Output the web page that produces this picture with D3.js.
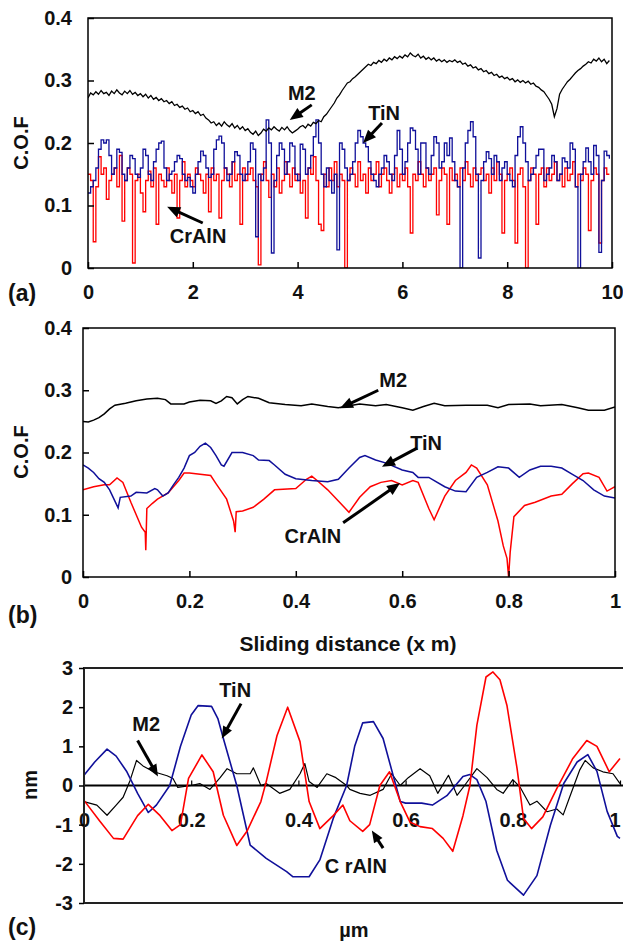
<!DOCTYPE html>
<html><head><meta charset="utf-8">
<script src="https://cdn.jsdelivr.net/npm/d3@7"></script>
<style>
body{margin:0;background:#fff}
svg{display:block}
text{font-family:"Liberation Sans",Arial,sans-serif;font-weight:bold;fill:#111}
</style>
</head><body>
<svg id="chart" width="623" height="943"></svg>
<script>
// ---------------- Panel (a): C.O.F vs sliding distance (0..10), sampled every 0.05 ----------------
const aStep = 0.05;
const aTicksX = [0, 2, 4, 6, 8, 10];
const cofTicks = [0, 0.1, 0.2, 0.3, 0.4];
const m2A = [
 .272,.28,.277,.282,.278,.284,.279,.281,.276,.283,
 .279,.285,.28,.277,.283,.279,.284,.278,.281,.276,
 .279,.274,.278,.272,.276,.27,.273,.268,.271,.266,
 .268,.263,.266,.26,.262,.257,.259,.254,.256,.25,
 .252,.247,.25,.244,.246,.24,.237,.232,.234,.228,
 .232,.227,.234,.229,.226,.231,.224,.228,.222,.226,
 .22,.223,.217,.214,.219,.212,.216,.222,.219,.224,
 .221,.226,.222,.219,.225,.221,.226,.22,.216,.219,
 .222,.226,.228,.224,.23,.227,.233,.231,.236,.234,
 .242,.246,.252,.258,.264,.272,.277,.284,.29,.296,
 .298,.303,.306,.31,.314,.318,.322,.326,.324,.329,
 .327,.332,.329,.334,.331,.336,.333,.338,.335,.339,
 .336,.341,.338,.344,.34,.338,.342,.336,.339,.334,
 .337,.333,.336,.331,.334,.33,.333,.329,.332,.33,
 .333,.329,.331,.326,.328,.323,.325,.32,.322,.317,
 .319,.314,.316,.311,.313,.308,.31,.305,.307,.303,
 .305,.301,.303,.298,.301,.297,.3,.296,.299,.294,
 .296,.291,.289,.285,.282,.276,.27,.262,.242,.255,
 .278,.286,.292,.298,.302,.307,.312,.316,.319,.323,
 .326,.33,.328,.334,.331,.336,.33,.334,.327,.332];
const tinA = [
 .12,.13,.14,.16,.19,.205,.2,.205,.18,.15,
 .16,.19,.185,.15,.14,.16,.18,.175,.15,.145,
 .16,.19,.18,.15,.14,.17,.19,.2,.203,.16,
 .14,.15,.155,.17,.18,.175,.15,.14,.145,.13,
 .12,.15,.17,.187,.18,.16,.145,.15,.19,.205,
 .211,.2,.16,.14,.15,.17,.186,.18,.15,.14,
 .15,.17,.2,.19,.05,.15,.14,.16,.237,.2,
 .024,.14,.18,.2,.19,.15,.17,.2,.195,.15,
 .14,.198,.19,.15,.16,.18,.21,.237,.2,.15,
 .13,.16,.14,.12,.15,.029,.2,.19,.16,.14,
 .15,.17,.2,.22,.21,.2,.194,.17,.15,.14,
 .13,.15,.16,.18,.17,.15,.14,.18,.22,.19,
 .15,.17,.2,.224,.22,.19,.15,.2,.2,.16,
 .15,.18,.21,.2,.16,.17,.2,.18,.208,.17,
 .14,.13,.0,.16,.2,.22,.234,.21,.15,.016,
 .14,.17,.186,.175,.15,.18,.17,.14,.16,.17,
 .15,.14,.13,.18,.21,.226,.2,.17,.14,.15,
 .16,.18,.19,.19,.14,.15,.16,.18,.17,.14,
 .15,.176,.17,.16,.2,.19,.13,.0,.15,.17,
 .192,.17,.15,.196,.18,.025,.14,.187,.18,.175];
const cralnA = [
 .15,.14,.042,.13,.178,.15,.16,.11,.14,.15,
 .16,.13,.18,.075,.14,.16,.15,.008,.14,.15,
 .12,.09,.14,.155,.13,.16,.07,.15,.14,.13,
 .16,.14,.12,.15,.08,.14,.17,.13,.15,.14,
 .13,.16,.15,.14,.12,.15,.09,.16,.14,.15,
 .08,.14,.16,.15,.13,.17,.14,.15,.07,.16,
 .14,.15,.16,.14,.13,.005,.15,.17,.14,.113,
 .15,.13,.16,.12,.14,.17,.15,.13,.16,.14,
 .15,.12,.14,.08,.16,.15,.178,.14,.07,.06,
 .15,.13,.16,.14,.17,.13,.15,.14,.0,.14,
 .16,.15,.13,.17,.14,.15,.12,.16,.14,.15,
 .17,.13,.15,.16,.14,.12,.15,.16,.13,.15,
 .14,.16,.13,.056,.15,.14,.17,.15,.13,.16,
 .14,.15,.16,.085,.14,.16,.15,.07,.16,.14,
 .15,.13,.16,.14,.17,.15,.13,.16,.14,.15,
 .16,.14,.15,.12,.16,.14,.17,.15,.056,.14,
 .15,.16,.14,.04,.15,.16,.13,.0,.14,.16,
 .15,.07,.15,.16,.13,.16,.14,.15,.17,.14,
 .15,.13,.16,.14,.15,.17,.13,.15,.14,.16,
 .15,.06,.14,.16,.15,.04,.14,.16,.15,.15];

// ---------------- Panel (b): C.O.F vs sliding distance (0..1) ----------------
const bTicksX = [0, 0.2, 0.4, 0.6, 0.8, 1];
const m2Bx = [0,.01,.02,.03,.04,.05,.06,.08,.1,.12,.14,.155,.165,.19,.2,.22,.24,.25,.26,.27,.28,.29,.3,.31,.33,.35,.38,.41,.43,.46,.48,.5,.52,.55,.57,.6,.62,.64,.66,.68,.72,.76,.78,.8,.84,.86,.9,.93,.95,.98,1];
const m2By = [.25,.249,.252,.256,.262,.27,.276,.279,.283,.286,.287,.285,.278,.278,.281,.284,.283,.279,.283,.29,.288,.278,.285,.29,.287,.28,.277,.275,.278,.274,.272,.275,.278,.275,.277,.272,.268,.274,.279,.275,.276,.276,.272,.277,.278,.275,.277,.272,.268,.268,.273];
const tinBx = [0,.01,.02,.03,.04,.05,.06,.066,.07,.09,.1,.12,.135,.14,.15,.16,.17,.18,.19,.2,.21,.22,.23,.24,.25,.26,.265,.28,.3,.32,.33,.35,.36,.38,.4,.43,.46,.48,.5,.52,.53,.55,.57,.6,.62,.63,.65,.68,.7,.72,.74,.76,.78,.8,.82,.84,.86,.88,.9,.92,.94,.96,.98,1];
const tinBy = [.18,.175,.168,.158,.152,.14,.122,.111,.128,.13,.136,.135,.142,.14,.13,.135,.148,.16,.175,.195,.2,.21,.215,.208,.195,.18,.178,.2,.2,.195,.188,.187,.18,.165,.158,.155,.153,.157,.175,.192,.195,.188,.183,.172,.168,.16,.16,.145,.138,.137,.16,.168,.177,.175,.16,.172,.178,.178,.175,.165,.155,.14,.13,.127];
const cralnBx = [0,.02,.04,.05,.064,.075,.09,.11,.117,.118,.12,.13,.14,.16,.18,.19,.2,.24,.25,.27,.283,.286,.288,.3,.32,.34,.36,.4,.42,.43,.44,.46,.48,.5,.52,.54,.56,.58,.6,.62,.63,.65,.66,.68,.7,.72,.73,.74,.76,.78,.79,.797,.8,.803,.81,.83,.85,.88,.9,.92,.94,.95,.97,.985,1];
const cralnBy = [.14,.145,.148,.148,.159,.152,.12,.08,.072,.043,.11,.118,.125,.135,.155,.167,.167,.163,.15,.125,.09,.072,.105,.106,.112,.125,.14,.142,.157,.162,.155,.14,.122,.104,.128,.145,.152,.155,.148,.155,.152,.11,.092,.13,.155,.168,.18,.175,.148,.09,.05,.03,0,.04,.097,.115,.12,.13,.133,.15,.166,.167,.16,.138,.145];

// ---------------- Panel (c): surface profile (nm) vs position (µm) ----------------
const cTicksX = [0, 0.2, 0.4, 0.6, 0.8, 1];
const cTicksY = [3, 2, 1, 0, -1, -2, -3];
const tinCx = [0,.02,.043,.06,.08,.1,.12,.135,.16,.18,.2,.213,.238,.25,.26,.285,.31,.34,.378,.39,.42,.44,.465,.49,.505,.52,.54,.558,.59,.6,.63,.65,.677,.707,.72,.733,.75,.77,.79,.82,.845,.87,.895,.92,.94,.957,.976,.995,1];
const tinCy = [.26,.6,.93,.75,.35,-.2,-.69,-.5,0,1.0,1.8,2.04,2.02,1.7,1.2,0,-1.52,-1.86,-2.2,-2.33,-2.33,-1.9,-.84,0,1.0,1.6,1.63,1.2,-.41,-.45,-.45,-.5,-.26,.23,.28,.15,-.41,-1.66,-2.42,-2.8,-2.3,-1.02,.05,.6,.79,.36,-.66,-1.3,-1.35];
const cralnCx = [0,.03,.055,.073,.1,.12,.142,.164,.18,.195,.22,.241,.26,.285,.304,.33,.34,.36,.38,.403,.42,.44,.465,.483,.496,.52,.533,.552,.57,.59,.608,.627,.65,.67,.688,.707,.72,.733,.75,.763,.776,.789,.808,.82,.835,.856,.882,.912,.938,.957,.98,1];
const cralnCy = [-.38,-.92,-1.35,-1.37,-.77,-.48,-.77,-1.15,-1.0,.18,.78,.35,-.76,-1.53,-1.17,-.41,.1,1.27,2.0,1.12,-.41,-1.1,-.77,-.5,-.9,-1.17,-1.0,0,.35,-.41,-.93,-1.05,-1.1,-1.35,-1.68,-.77,0,1.54,2.77,2.9,2.7,2.05,.43,-.84,-1.1,-.8,-.08,.69,1.15,1.0,.35,.69];
const m2Cx = [0,.024,.043,.06,.073,.086,.098,.11,.13,.155,.166,.175,.2,.216,.235,.254,.267,.285,.31,.316,.33,.34,.365,.384,.403,.412,.42,.435,.453,.47,.49,.496,.515,.534,.558,.574,.59,.605,.627,.645,.66,.68,.696,.71,.733,.752,.77,.782,.8,.814,.832,.845,.864,.882,.894,.906,.925,.935,.95,.968,.987,1];
const m2Cy = [-.41,-.5,-.76,-.5,-.3,.13,.64,.5,.35,.25,.18,-.05,0,.05,-.1,.2,.43,.3,.3,.45,0,.05,-.2,-.1,.3,.56,.1,-.05,.3,.2,0,-.1,-.2,-.25,-.1,.3,0,.2,.43,.25,-.2,.26,-.25,0,.43,.2,-.1,-.2,.15,-.05,-.5,-.4,-.67,-.6,-.75,-.3,.4,.64,.45,.35,.3,.05];

// annotations (data coordinates): label, text x, text y, arrow tail x,y, arrow tip x,y
const annA = [["M2",4.08,.269,4.27,.261,3.85,.237],["TiN",5.65,.237,5.61,.232,5.25,.2],["CrAlN",2.1,.04,2.19,.072,1.51,.098]];
const annB = [["M2",.583,.305,.555,.3,.483,.271],["TiN",.645,.204,.628,.207,.562,.177],["CrAlN",.432,.055,.489,.087,.596,.151]];
const annC = [["TiN",.282,2.27,.293,2.09,.257,1.2],["M2",.116,1.38,.1,1.15,.138,.23],["C rAlN",.507,-2.24,.558,-1.6,.537,-1.15]];

const COLORS = {M2:"#000000", TiN:"#10109a", CrAlN:"#ff0000"};

const svg = d3.select("#chart");

function arrow(g, x1, y1, x2, y2, hl, hw, lw) {
  const dx = x2 - x1, dy = y2 - y1, L = Math.hypot(dx, dy);
  const ux = dx / L, uy = dy / L;
  const bx = x2 - ux * hl, by = y2 - uy * hl;
  g.append("line").attr("x1", x1).attr("y1", y1).attr("x2", bx + ux * 2).attr("y2", by + uy * 2)
    .attr("stroke", "#000").attr("stroke-width", lw);
  g.append("path").attr("d", `M${x2},${y2}L${bx - uy * hw / 2},${by + ux * hw / 2}L${bx + uy * hw / 2},${by - ux * hw / 2}Z`)
    .attr("fill", "#000");
}

function drawAnn(g, ann, x, y, fs, hl, hw, lw) {
  ann.forEach(a => {
    g.append("text").attr("x", x(a[1])).attr("y", y(a[2])).attr("text-anchor", "middle")
      .attr("font-size", fs).text(a[0]);
    arrow(g, x(a[3]), y(a[4]), x(a[5]), y(a[6]), hl, hw, lw);
  });
}

const fmtTick = d => d === 0 ? "0" : (Number.isInteger(d) ? String(d) : d3.format(".1f")(d));

// ---------- Panel (a) ----------
{
  const x = d3.scaleLinear([0, 10], [88, 612]);
  const y = d3.scaleLinear([0, 0.4], [268, 18]);
  const g = svg.append("g");
  svg.append("clipPath").attr("id", "clipA").append("rect").attr("x", 88).attr("y", 18).attr("width", 524).attr("height", 250);
  const stepLine = d3.line().x((d, i) => x(i * aStep)).y(d => y(d)).curve(d3.curveStepAfter);
  const linLine = d3.line().x((d, i) => x(i * aStep)).y(d => y(d));
  const lg = g.append("g").attr("clip-path", "url(#clipA)");
  [[cralnA, COLORS.CrAlN, stepLine], [tinA, COLORS.TiN, stepLine], [m2A, COLORS.M2, linLine]].forEach(([s, c, ln]) => {
    lg.append("path").datum(s).attr("d", ln).attr("fill", "none").attr("stroke", c).attr("stroke-width", 1.3);
  });
  g.append("rect").attr("x", 88).attr("y", 18).attr("width", 524).attr("height", 250).attr("fill", "none").attr("stroke", "#000").attr("stroke-width", 1.5);
  const ya = g.append("g").attr("transform", "translate(88,0)")
    .call(d3.axisLeft(y).tickValues(cofTicks).tickSizeInner(-6).tickSizeOuter(0).tickPadding(16).tickFormat(fmtTick));
  const xa = g.append("g").attr("transform", "translate(0,268)")
    .call(d3.axisBottom(x).tickValues(aTicksX).tickSizeInner(-6).tickSizeOuter(0).tickPadding(17).tickFormat(fmtTick));
  [ya, xa].forEach(a => { a.select(".domain").remove(); a.selectAll("line").attr("stroke", "#000").attr("stroke-width", 1.5);
    a.selectAll("text").attr("font-size", 20).attr("font-family", null).attr("fill", "#111"); });
  g.append("text").attr("transform", "translate(28,143) rotate(-90)").attr("text-anchor", "middle").attr("font-size", 20).text("C.O.F");
  g.append("text").attr("x", 8).attr("y", 301).attr("font-size", 23).text("(a)");
  drawAnn(g, annA, x, y, 20, 13, 11, 3);
}

// ---------- Panel (b) ----------
{
  const x = d3.scaleLinear([0, 1], [83, 615]);
  const y = d3.scaleLinear([0, 0.4], [577, 328]);
  const g = svg.append("g");
  svg.append("clipPath").attr("id", "clipB").append("rect").attr("x", 83).attr("y", 328).attr("width", 532).attr("height", 249);
  const lg = g.append("g").attr("clip-path", "url(#clipB)");
  const mk = (xs, ys) => xs.map((v, i) => [v, ys[i]]);
  const line = d3.line().x(d => x(d[0])).y(d => y(d[1]));
  [[mk(cralnBx, cralnBy), COLORS.CrAlN], [mk(tinBx, tinBy), COLORS.TiN], [mk(m2Bx, m2By), COLORS.M2]].forEach(([s, c]) => {
    lg.append("path").datum(s).attr("d", line).attr("fill", "none").attr("stroke", c).attr("stroke-width", 1.5);
  });
  g.append("rect").attr("x", 83).attr("y", 328).attr("width", 532).attr("height", 249).attr("fill", "none").attr("stroke", "#000").attr("stroke-width", 1.5);
  const ya = g.append("g").attr("transform", "translate(83,0)")
    .call(d3.axisLeft(y).tickValues(cofTicks).tickSizeInner(-6).tickSizeOuter(0).tickPadding(11).tickFormat(fmtTick));
  const xa = g.append("g").attr("transform", "translate(0,577)")
    .call(d3.axisBottom(x).tickValues(bTicksX).tickSizeInner(-6).tickSizeOuter(0).tickPadding(17).tickFormat(fmtTick));
  [ya, xa].forEach(a => { a.select(".domain").remove(); a.selectAll("line").attr("stroke", "#000").attr("stroke-width", 1.5);
    a.selectAll("text").attr("font-size", 20).attr("font-family", null).attr("fill", "#111"); });
  g.append("text").attr("transform", "translate(28,452) rotate(-90)").attr("text-anchor", "middle").attr("font-size", 20).text("C.O.F");
  g.append("text").attr("x", 8).attr("y", 623).attr("font-size", 23).text("(b)");
  g.append("text").attr("x", 348).attr("y", 651).attr("text-anchor", "middle").attr("font-size", 21).text("Sliding distance (x m)");
  drawAnn(g, annB, x, y, 20, 13, 11, 3);
}

// ---------- Panel (c) ----------
{
  const x = d3.scaleLinear([0, 1], [84, 620]);
  const y = d3.scaleLinear([-3, 3], [903, 668]);
  const g = svg.append("g");
  const mk = (xs, ys) => xs.map((v, i) => [v, ys[i]]);
  const line = d3.line().x(d => x(d[0])).y(d => y(d[1]));
  const xa = g.append("g").attr("transform", `translate(0,${y(0)})`)
    .call(d3.axisBottom(x).tickValues(cTicksX).tickSizeInner(-5).tickSizeOuter(0).tickPadding(27).tickFormat(fmtTick));
  xa.select(".domain").attr("d", `M${x(0)},0H640`).attr("stroke", "#000").attr("stroke-width", 2);
  xa.selectAll("line").attr("stroke", "#000").attr("stroke-width", 1.2);
  xa.selectAll("text").attr("font-size", 20).attr("font-family", null).attr("fill", "#111");
  xa.selectAll(".tick").filter(d => d === 1).select("text").attr("text-anchor", "end").attr("dx", "0");
  [[mk(m2Cx, m2Cy), COLORS.M2, 1.2], [mk(tinCx, tinCy), COLORS.TiN, 1.6], [mk(cralnCx, cralnCy), COLORS.CrAlN, 1.6]].forEach(([s, c, w]) => {
    g.append("path").datum(s).attr("d", line).attr("fill", "none").attr("stroke", c).attr("stroke-width", w).attr("stroke-linejoin", "round");
  });
  g.append("rect").attr("x", 84).attr("y", 668).attr("width", 560).attr("height", 235).attr("fill", "none").attr("stroke", "#222").attr("stroke-width", 2);
  const ya = g.append("g").attr("transform", "translate(84,0)")
    .call(d3.axisLeft(y).tickValues(cTicksY).tickSizeInner(5).tickSizeOuter(0).tickPadding(6).tickFormat(d => String(d)));
  ya.select(".domain").remove();
  ya.selectAll("line").attr("stroke", "#000").attr("stroke-width", 1.5);
  ya.selectAll("text").attr("font-size", 20).attr("font-family", null).attr("fill", "#111");
  g.append("text").attr("transform", "translate(37,785) rotate(-90)").attr("text-anchor", "middle").attr("font-size", 20).text("nm");
  g.append("text").attr("x", 8).attr("y", 935).attr("font-size", 23).text("(c)");
  g.append("text").attr("x", 354).attr("y", 937).attr("text-anchor", "middle").attr("font-size", 20).text("µm");
  drawAnn(g, annC, x, y, 20, 12, 10, 3);
}
</script>
</body></html>
